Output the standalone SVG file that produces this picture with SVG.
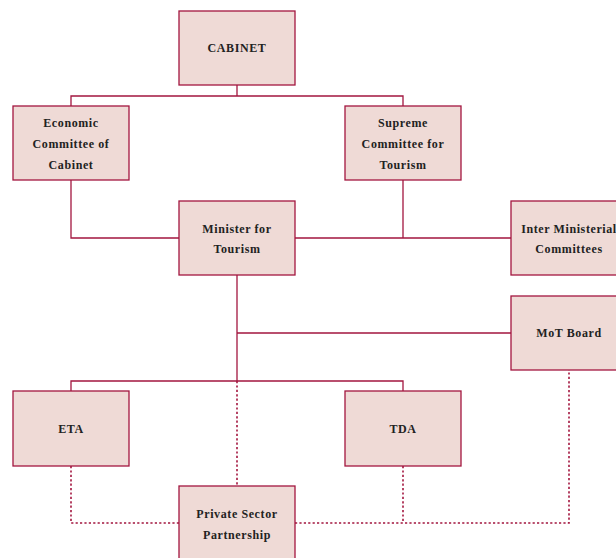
<svg xmlns="http://www.w3.org/2000/svg" width="616" height="558" viewBox="0 0 616 558">
<style>
.box{fill:#efdad6;stroke:#a3163f;stroke-width:1.3}
.t{font-family:"Liberation Serif","DejaVu Serif",serif;font-weight:bold;font-size:12px;letter-spacing:0.6px;fill:#222;text-anchor:middle}
.c{fill:none;stroke:#a3163f;stroke-width:1.3}
.d{fill:none;stroke:#a3163f;stroke-width:1.6;stroke-dasharray:2.2 2.2}
</style>
<rect width="616" height="558" fill="#fff"/>
<g id="connectors">
<path class="c" d="M237 85V96M71 106V96H403V106"/>
<path class="c" d="M71 180V238H511M403 180V238"/>
<path class="c" d="M237 275V381M237 333H511M71 391V381H403V391"/>
<path class="d" d="M237 381V486M71 466V523H179M295 523H569V370M403 466V523"/>
</g>
<g id="cabinet"><rect class="box" x="179" y="11" width="116" height="74"/><text class="t" x="237" y="52">CABINET</text></g>
<g id="economic"><rect class="box" x="13" y="106" width="116" height="74"/><text class="t" x="71" y="127">Economic</text><text class="t" x="71" y="148">Committee of</text><text class="t" x="71" y="169">Cabinet</text></g>
<g id="supreme"><rect class="box" x="345" y="106" width="116" height="74"/><text class="t" x="403" y="127">Supreme</text><text class="t" x="403" y="148">Committee for</text><text class="t" x="403" y="169">Tourism</text></g>
<g id="minister"><rect class="box" x="179" y="201" width="116" height="74"/><text class="t" x="237" y="233">Minister for</text><text class="t" x="237" y="253">Tourism</text></g>
<g id="inter"><rect class="box" x="511" y="201" width="116" height="74"/><text class="t" x="569" y="233">Inter Ministerial</text><text class="t" x="569" y="253">Committees</text></g>
<g id="motboard"><rect class="box" x="511" y="296" width="116" height="74"/><text class="t" x="569" y="337">MoT Board</text></g>
<g id="eta"><rect class="box" x="13" y="391" width="116" height="75"/><text class="t" x="71" y="433">ETA</text></g>
<g id="tda"><rect class="box" x="345" y="391" width="116" height="75"/><text class="t" x="403" y="433">TDA</text></g>
<g id="private"><rect class="box" x="179" y="486" width="116" height="80"/><text class="t" x="237" y="518">Private Sector</text><text class="t" x="237" y="539">Partnership</text></g>
</svg>
